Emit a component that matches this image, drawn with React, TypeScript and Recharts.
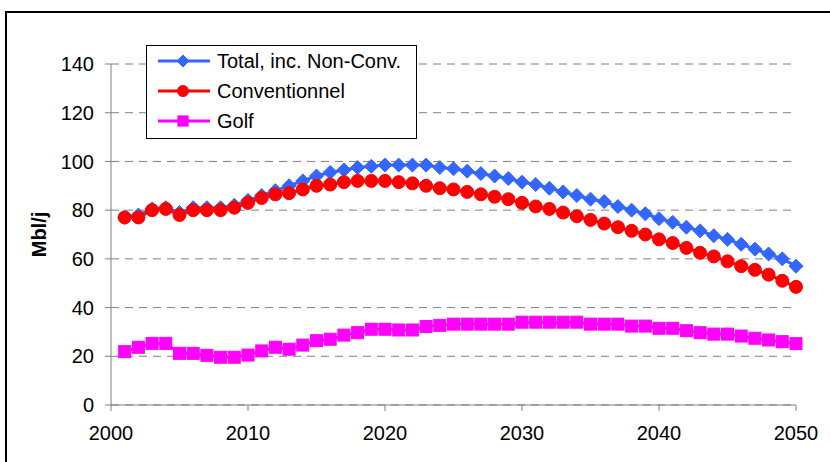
import React from "react";
import { CartesianGrid, Line, LineChart, XAxis, YAxis } from "recharts";

const years = [
	2001, 2002, 2003, 2004, 2005, 2006, 2007, 2008, 2009, 2010, 2011, 2012, 2013, 2014, 2015, 2016, 2017,
	2018, 2019, 2020, 2021, 2022, 2023, 2024, 2025, 2026, 2027, 2028, 2029, 2030, 2031, 2032, 2033, 2034,
	2035, 2036, 2037, 2038, 2039, 2040, 2041, 2042, 2043, 2044, 2045, 2046, 2047, 2048, 2049, 2050,
];

const total = [
	77, 78, 80.5, 81, 79, 81, 81, 81, 82, 84, 86, 88, 90, 92, 94, 95.5, 96.5, 97.5, 98, 98.5, 98.5, 98.5,
	98.5, 97.5, 97, 96, 95, 94, 93, 91.5, 90.5, 89, 87.5, 86, 84.5, 83.5, 81.5, 80, 78.5, 76.5, 75, 73,
	71.5, 69.5, 68, 66, 64, 62, 60, 57,
];

const conventionnel = [
	77, 77, 80, 80.5, 78, 80, 80, 80, 81, 83, 85, 86.5, 87, 88.5, 90, 90.5, 91.5, 92, 92, 92, 91.5, 91, 90,
	89, 88.5, 87.5, 86.5, 85.5, 84.5, 83, 81.5, 80.5, 79, 77.5, 76, 74.5, 73, 71.5, 70, 68, 66.5, 64.5,
	62.5, 61, 59, 57, 55.5, 53.5, 51, 48.5,
];

const golf = [
	21.9, 23.7, 25.3, 25.3, 21.2, 21.2, 20.4, 19.6, 19.6, 20.5, 22.2, 23.7, 22.9, 24.6, 26.4, 27, 28.7,
	29.7, 31.1, 31.1, 30.8, 30.8, 32.2, 32.7, 33.2, 33.2, 33.2, 33.2, 33.2, 34, 34, 34, 34, 34, 33.2, 33.2,
	33.2, 32.4, 32.4, 31.5, 31.5, 30.5, 29.7, 29.1, 29.1, 28.3, 27.4, 26.7, 26, 25.2,
];

const xTicks = [2000, 2010, 2020, 2030, 2040, 2050];
const yTicks = [0, 20, 40, 60, 80, 100, 120, 140];

const series = [
	{ key: "total", name: "Total, inc. Non-Conv.", color: "#3366FF", marker: "diamond" },
	{ key: "conv", name: "Conventionnel", color: "#FF0000", marker: "circle" },
	{ key: "golf", name: "Golf", color: "#FF00FF", marker: "square" },
];

const data = years.map((year, i) => ({
	year,
	total: total[i],
	conv: conventionnel[i],
	golf: golf[i],
}));

const FONT = "'Liberation Sans', Arial, sans-serif";

function Marker({ cx, cy, color, marker, size = 1 }: { cx: number; cy: number; color: string; marker: string; size?: number }) {
	if (cx == null || cy == null) return null;
	if (marker === "diamond") {
		const s = 7 * size;
		return (
			<polygon
				points={`${cx},${cy - s} ${cx + s},${cy} ${cx},${cy + s} ${cx - s},${cy}`}
				fill={color}
				stroke={color}
				strokeWidth={1}
			/>
		);
	}
	if (marker === "square") {
		const s = 6 * size;
		return <rect x={cx - s} y={cy - s} width={s * 2} height={s * 2} fill={color} stroke={color} strokeWidth={1} />;
	}
	return <circle cx={cx} cy={cy} r={6.5 * size} fill={color} stroke={color} strokeWidth={1} />;
}

function LegendBox() {
	return (
		<div
			style={{
				position: "absolute",
				left: 146,
				top: 45,
				width: 269,
				height: 92,
				border: "1px solid #000",
				background: "#fff",
				fontFamily: FONT,
				fontSize: 20,
			}}
		>
			{series.map((s, i) => (
				<div
					key={s.key}
					style={{ position: "absolute", left: 0, top: 3 + i * 30, height: 24, display: "flex", alignItems: "center" }}
				>
					<svg width={70} height={24} style={{ flex: "none" }}>
						<line x1={11} y1={12} x2={63} y2={12} stroke={s.color} strokeWidth={3} />
						<Marker cx={36} cy={12} color={s.color} marker={s.marker} size={0.85} />
					</svg>
					<span style={{ color: "#000", whiteSpace: "nowrap" }}>{s.name}</span>
				</div>
			))}
		</div>
	);
}

export default function App() {
	return (
		<div style={{ position: "absolute", left: 0, top: 0, width: 830, height: 462, overflow: "hidden", background: "#fff" }}>
			<div
				style={{
					position: "absolute",
					left: 5,
					top: 11,
					width: 900,
					height: 600,
					border: "2px solid #000",
				}}
			/>
			<div style={{ position: "absolute", left: 0, top: 0 }}>
				<LineChart width={830} height={462} data={data} margin={{ top: 64, right: 34, left: 11, bottom: 17 }}>
					<CartesianGrid stroke="#808080" strokeDasharray="8 6" vertical={false} />
					<XAxis
						dataKey="year"
						type="number"
						domain={[2000, 2050]}
						ticks={xTicks}
						height={40}
						stroke="#808080"
						tick={{ fill: "#000", fontSize: 20, fontFamily: FONT }}
						tickSize={6}
						tickMargin={15}
					/>
					<YAxis
						domain={[0, 140]}
						ticks={yTicks}
						width={100}
						stroke="#808080"
						tick={{ fill: "#000", fontSize: 20, fontFamily: FONT }}
						tickSize={6}
						tickMargin={11}
						label={{
							value: "Mbl/j",
							angle: -90,
							position: "insideLeft",
							offset: 28,
							style: { fontWeight: "bold", fontSize: 20, fontFamily: FONT, fill: "#000", textAnchor: "middle" },
						}}
					/>
					{series.map((s) => (
						<Line
							key={s.key}
							dataKey={s.key}
							name={s.name}
							stroke={s.color}
							strokeWidth={3}
							isAnimationActive={false}
							dot={(p: any) => <Marker key={`${s.key}-${p.index}`} cx={p.cx} cy={p.cy} color={s.color} marker={s.marker} />}
							activeDot={false}
						/>
					))}
				</LineChart>
			</div>
			<LegendBox />
		</div>
	);
}
